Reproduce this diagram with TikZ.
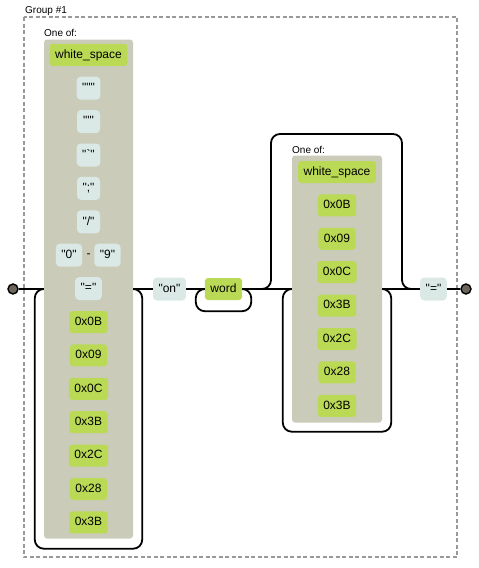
\documentclass[tikz,border=0pt]{standalone}
\usepackage{fontspec}
\newfontfamily\railfont{Liberation Sans}
\usetikzlibrary{calc}
\definecolor{escgreen}{HTML}{BADA55}
\definecolor{litblue}{HTML}{DAE9E5}
\definecolor{setgrey}{HTML}{CBCBBA}
\definecolor{dotgrey}{HTML}{6B6659}
\tikzset{
  esc/.style={fill=escgreen, rounded corners=3pt, inner xsep=5.5pt, inner ysep=0pt,
    minimum height=22pt, text height=9pt, text depth=2.5pt,
    font=\railfont\fontsize{12}{14}\selectfont},
  lit/.style={esc, fill=litblue, minimum height=23pt, minimum width=23pt, rounded corners=4pt},
  charset/.style={fill=setgrey, rounded corners=3pt, inner sep=0pt},
  rail/.style={line width=1.8pt, rounded corners=9pt},
  terminal/.style={circle, draw=black, fill=dotgrey, line width=1.4pt, minimum size=10pt, inner sep=0pt},
  caption/.style={font=\railfont\fontsize{10}{12}\selectfont, inner sep=0pt, anchor=west},
  groupline/.style={draw=black!40, line width=1.2pt, dash pattern=on 4pt off 2.5pt},
}

\begin{document}
\begin{tikzpicture}[x=1pt, y=-1pt]
    \useasboundingbox (0,0) rectangle (479,568);
    % group frame
    \draw[groupline] (24,17) rectangle (457,557);
    \node[caption] (grp) at (25,11) {Group \#1};

    % first set
    \node[charset, minimum width=89pt, minimum height=499pt] (setA) at (88.5,289) {};
    \node[caption] (oneofA) at (44,33) {One of:};
    \node[esc] (wsA) at (88.5,54.8) {white\_space};
    \node[lit] (dqA) at (88.5,88.2) {"""};
    \node[lit] (sqA) at (88.5,121.6) {"'"};
    \node[lit] (btA) at (88.5,155) {"`"};
    \node[lit] (scA) at (88.5,188.4) {";"};
    \node[lit] (slA) at (88.5,221.8) {"/"};
    \node[lit] (zeroA) at (69,255.2) {"0"};
    \node[font=\railfont\fontsize{12}{14}\selectfont] (toA) at (88.5,255.2) {-};
    \node[lit] (nineA) at (107.5,255.2) {"9"};
    \node[lit] (eqA) at (88.5,288.6) {"="};
    \foreach \hx [count=\k] in {0x0B,0x09,0x0C,0x3B,0x2C,0x28,0x3B}
      \node[esc] (hA\k) at (88.5,288.6+33.4*\k) {\hx};

    \node[lit] (on) at (169.5,289) {"on"};
    \node[esc] (word) at (223.5,289) {word};

    % second set
    \node[charset, minimum width=90pt, minimum height=267pt] (setB) at (337,289) {};
    \node[caption] (oneofB) at (292,150) {One of:};
    \node[esc] (wsB) at (337,172) {white\_space};
    \foreach \hx [count=\k] in {0x0B,0x09,0x0C,0x3B,0x2C,0x28,0x3B}
      \node[esc] (hB\k) at (337,172+33.4*\k) {\hx};

    \node[lit] (eqB) at (433.5,289) {"="};
    \node[terminal] (start) at (13,289) {};
    \node[terminal] (end) at (466,289) {};
    \coordinate (splitB) at (262,289);
    \coordinate (joinB) at (411,289);

    % main line
    \draw[rail] (start) -- (setA.west);
    \draw[rail] (setA.east) -- (on.west);
    \draw[rail] (on.east) -- (word.west);
    \draw[rail] (word.east) -- (setB.west);
    \draw[rail] (setB.east) -- (eqB.west);
    \draw[rail] (eqB.east) -- (end);

    % loops
    \draw[rail] (setA.west) -- ++(-9,0) -- ($(setA.south west)+(-9,10)$)
      -- ($(setA.south east)+(9,10)$) -- ($(setA.east)+(9,0)$) -- (setA.east);
    \draw[rail] (word.west) -- ++(-9,0) -- ($(word.south west)+(-9,11)$)
      -- ($(word.south east)+(9,11)$) -- ($(word.east)+(9,0)$) -- (word.east);
    \draw[rail] (setB.west) -- ++(-9,0) -- ($(setB.south west)+(-9,9)$)
      -- ($(setB.south east)+(9,9)$) -- ($(setB.east)+(9,0)$) -- (setB.east);
    \draw[rail] (splitB) -- ++(9,0) -- ++(0,-155) -- ++(131,0) -- ++(0,155) -- (joinB);
\end{tikzpicture}
\end{document}
